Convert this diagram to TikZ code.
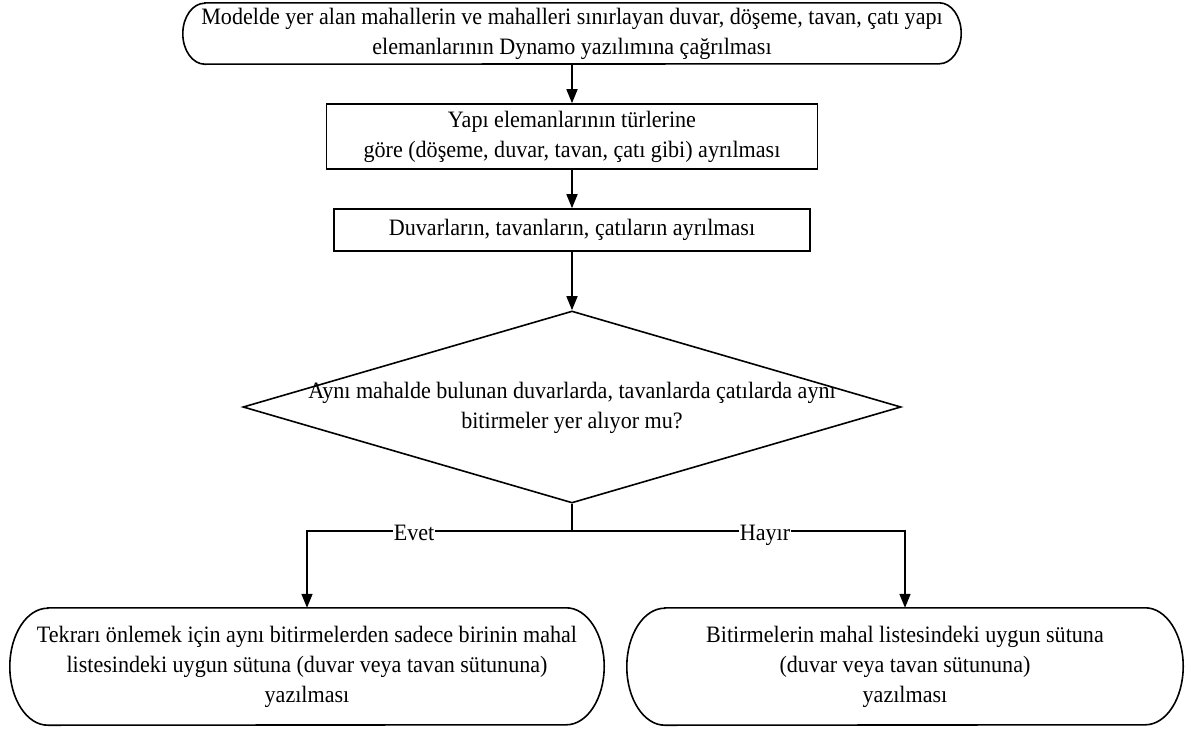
\documentclass[tikz,border=0pt]{standalone}
\usepackage{fontspec}
\setmainfont[FakeStretch=0.94]{Liberation Serif}
\usetikzlibrary{shapes.geometric,arrows.meta}
\newcommand\mystadium[3]{\draw[ln] ([xshift=#2]#1.north west) -- ([xshift=-#2]#1.north east) arc[start angle=90,end angle=-90,x radius=#2,y radius=#3] -- ([xshift=#2]#1.south west) arc[start angle=270,end angle=90,x radius=#2,y radius=#3] -- cycle;}
\begin{document}
\begin{tikzpicture}[x=1pt,y=-1pt,
  every node/.style={font=\fontsize{23.5}{30}\selectfont},
  plain/.style={inner sep=0pt, align=center},
  boxnode/.style={draw, line width=1.6pt, inner sep=0pt, align=center},
  ln/.style={line width=1.6pt},
  arr/.style={ln, -{Triangle[length=14pt,width=11pt]}},
  lbl/.style={fill=white, inner sep=0.5pt, text height=16pt, text depth=0pt}]
\fill[white] (0,0) rectangle (1188,728);
\useasboundingbox (0,0) rectangle (1188,728);

\node[plain, minimum width=778pt, minimum height=61pt] (top) at (572,33.5)
  {Modelde yer alan mahallerin ve mahalleri sınırlayan duvar, döşeme, tavan, çatı yapı\\ elemanlarının Dynamo yazılımına çağrılması};
\mystadium{top}{22pt}{30.5pt}

\node[boxnode, minimum width=491pt, minimum height=65pt] (b2) at (572,136.5)
  {Yapı elemanlarının türlerine\\ göre (döşeme, duvar, tavan, çatı gibi) ayrılması};

\node[boxnode, minimum width=476pt, minimum height=42pt] (b3) at (572,230)
  {Duvarların, tavanların, çatıların ayrılması};

\node[diamond, draw, line width=1.6pt, minimum width=658pt, minimum height=192pt, inner sep=0pt] (d) at (572,407) {};
\node[plain] (dt) at (572,408)
  {Aynı mahalde bulunan duvarlarda, tavanlarda çatılarda aynı\\ bitirmeler yer alıyor mu?};

\node[plain, minimum width=594pt, minimum height=117pt] (bl) at (307,666.5)
  {Tekrarı önlemek için aynı bitirmelerden sadece birinin mahal\\ listesindeki uygun sütuna (duvar veya tavan sütununa)\\ yazılması};
\mystadium{bl}{38pt}{58.5pt}

\node[plain, minimum width=556pt, minimum height=117pt] (br) at (905,666.5)
  {Bitirmelerin mahal listesindeki uygun sütuna\\ (duvar veya tavan sütununa)\\ yazılması};
\mystadium{br}{38pt}{58.5pt}

\draw[arr] (top.south) -- (b2.north);
\draw[arr] (b2.south) -- (b3.north);
\draw[arr] (b3.south) -- (d.north);
\coordinate (j) at (572,531);
\draw[ln] (d.south) -- (j);
\draw[arr] (j) -| (bl.north);
\draw[arr] (j) -| (br.north);
\node[lbl] (evet) at (414,532) {Evet};
\node[lbl] (hayir) at (765,532) {Hayır};
\end{tikzpicture}
\end{document}
